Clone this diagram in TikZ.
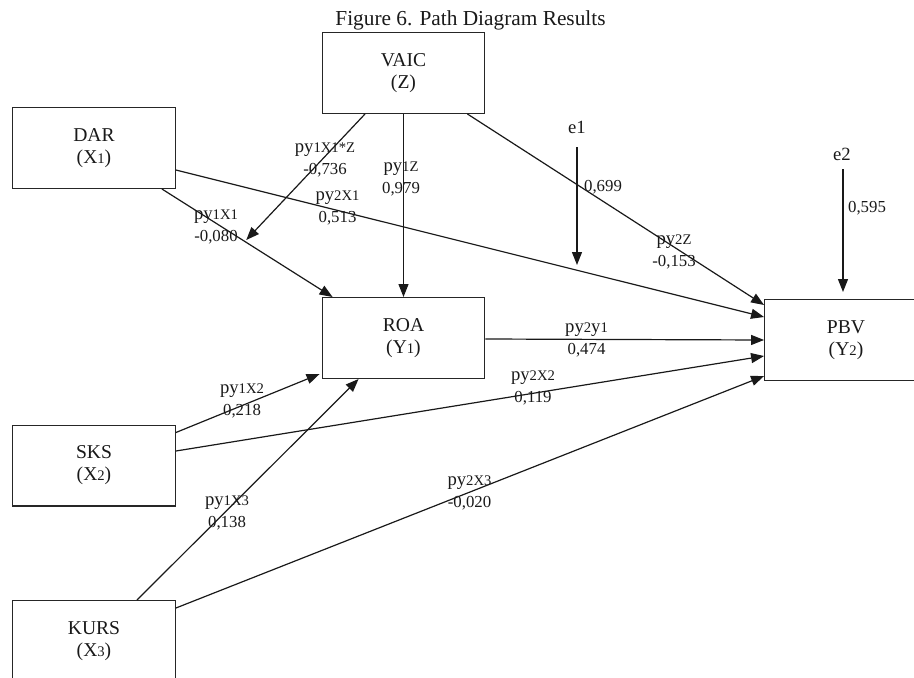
\documentclass[tikz,border=0pt]{standalone}
\usepackage{fontspec}
\setmainfont{Liberation Serif}
\usetikzlibrary{arrows.meta,calc}
\newcommand\smp[1]{{\fontsize{11}{12}\selectfont #1}}
\newcommand\smb[1]{{\fontsize{11}{12}\selectfont #1}}
\newcommand\pyt{{\fontsize{14}{16}\selectfont py}}
\begin{document}
\begin{tikzpicture}[x=0.75pt,y=-0.75pt,
  box/.style={draw=black!85, line width=0.9pt, minimum width=122pt, minimum height=60.6pt,
    inner sep=0pt, align=center, text=black!90, font=\fontsize{14.7}{16.5}\selectfont},
  lbl/.style={align=center, inner sep=0pt, text=black!90, font=\fontsize{12.6}{16.5}\selectfont},
  err/.style={inner sep=0pt, text=black!90, font=\fontsize{14}{16}\selectfont},
  arr/.style={draw=black!90, line width=0.9pt, -{Triangle[length=9.75pt,width=7.5pt]}},
  ln/.style={draw=black!90, line width=0.9pt}]
\useasboundingbox (0,0) rectangle (914,678);
% title
\node[anchor=base, inner sep=0pt, text=black!90, font=\fontsize{16}{18}\selectfont] (title) at (470.5,26) {Figure 6. Path Diagram Results};
% boxes
\node[box] (vaic) at (403.5,73) {VAIC\\(Z)};
\node[box] (dar) at (94,148) {DAR\\(X\smb{1})};
\node[box] (roa) at (403.5,338) {ROA\\(Y\smb{1})};
\node[box] (pbv) at (846,340) {PBV\\(Y\smb{2})};
\node[box] (sks) at (94,465.5) {SKS\\(X\smb{2})};
\node[box] (kurs) at (94,641) {KURS\\(X\smb{3})};
% error terms
\node[err] (e1) at (577,127) {e1};
\node[err] (e2) at (842,154) {e2};
\coordinate (e1end) at (577,265);
% connectors
\coordinate (darS) at ($(dar.south east)+(-14,0)$);
\coordinate (roaNW) at ($(roa.north west)+(11,0)$);
\draw[arr] (darS) -- (roaNW);
\coordinate (mod) at ($(darS)!0.5!(roaNW)$);
\draw[arr] ($(vaic.south)+(-38.5,0)$) -- ($(mod)+(-1,-3)$);
\draw[arr] (vaic.south) -- (roa.north);
\draw[arr] ($(vaic.south east)+(-18,0)$) -- ($(pbv.north west)+(0,6)$);
\draw[arr] ($(dar.east)+(0,22)$) -- ($(pbv.west)+(0,-23)$);
\draw[arr] ($(roa.east)+(0,1)$) -- (pbv.west);
\draw[arr] ($(sks.north east)+(0,8)$) -- ($(roa.south west)+(-2,-5)$);
\draw[arr] ($(sks.east)+(0,-14.5)$) -- ($(pbv.west)+(0,16)$);
\draw[arr] ($(kurs.north)+(43,0)$) -- ($(roa.south west)+(37,0)$);
\draw[arr] ($(kurs.north east)+(0,8)$) -- ($(pbv.south west)+(0,-5)$);
\draw[arr] ($(e1)+(0,20)$) -- (e1end);
\draw[arr] ($(e2)+(1,15)$) -- ($(pbv.north)+(-3,-7)$);
% labels
\node[lbl] (lA) at (325,160) {\pyt\smp{1X1*Z}\\-0,736};
\node[lbl] (lB) at (401,179) {\pyt\smp{1Z}\\0,979};
\node[lbl] (lC) at (337.5,208) {\pyt\smp{2X1}\\0,513};
\node[lbl] (lD) at (216,227) {\pyt\smp{1X1}\\-0,080};
\node[lbl] (lE) at (674,252) {\pyt\smp{2Z}\\-0,153};
\node[lbl] (lF) at (586.5,340) {\pyt\smp{2}{\fontsize{14}{16}\selectfont y}\smp{1}\\0,474};
\node[lbl] (lG) at (242,401) {\pyt\smp{1X2}\\0,218};
\node[lbl] (lH) at (533,388) {\pyt\smp{2X2}\\0,119};
\node[lbl] (lI) at (227,513) {\pyt\smp{1X3}\\0,138};
\node[lbl] (lJ) at (469.5,493) {\pyt\smp{2X3}\\-0,020};
\node[lbl] (v1) at (603,187) {0,699};
\node[lbl] (v2) at (867,208) {0,595};
\end{tikzpicture}
\end{document}
